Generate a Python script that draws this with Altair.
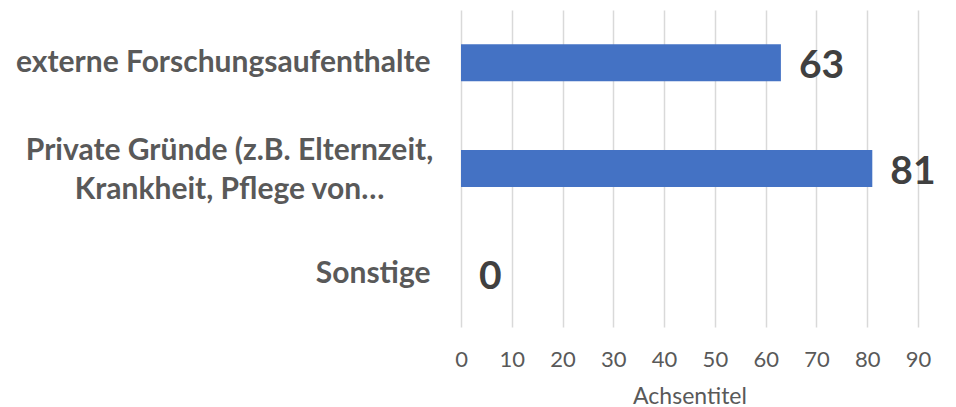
import altair as alt
import pandas as pd

categories = [
    "externe Forschungsaufenthalte",
    "Private Gründe (z.B. Elternzeit, Krankheit, Pflege von…",
    "Sonstige",
]
values = [63, 81, 0]
x_ticks = [0, 10, 20, 30, 40, 50, 60, 70, 80, 90]
axis_title = "Achsentitel"

wrap_line1 = "Private Gründe (z.B. Elternzeit,"
wrap_line2 = "Krankheit, Pflege von…"

df = pd.DataFrame({"cat": categories, "val": values})

is_wrapped = f"datum.label == '{categories[1]}'"
label_expr = f"{is_wrapped} ? ['{wrap_line1}', '{wrap_line2}'] : datum.label"

FONT = "Lato"

base = alt.Chart(df).encode(
    y=alt.Y(
        "cat:N",
        sort=categories,
        title=None,
        scale=alt.Scale(paddingInner=0.65, paddingOuter=0.325),
        axis=alt.Axis(
            labelExpr=label_expr,
            labelFont=FONT,
            labelFontSize=30,
            labelFontWeight="bold",
            labelColor="#595959",
            labelAlign={"condition": {"test": is_wrapped, "value": "center"}, "value": "right"},
            labelPadding={"condition": {"test": is_wrapped, "value": 232}, "value": 31},
            labelOffset={"condition": {"test": is_wrapped, "value": -18}, "value": 0},
            labelLineHeight=39,
            labelLimit=600,
            ticks=False,
            domain=False,
            grid=False,
        ),
    ),
)

bars = base.mark_bar(color="#4472C4").encode(
    x=alt.X(
        "val:Q",
        title=axis_title,
        scale=alt.Scale(domain=[0, 90], nice=False),
        axis=alt.Axis(
            values=x_ticks,
            labelFont=FONT,
            labelFontSize=22,
            labelColor="#595959",
            labelPadding=22,
            labelFlush=False,
            ticks=False,
            domain=False,
            grid=True,
            gridColor="#d9d9d9",
            gridWidth=1.5,
            titleFont=FONT,
            titleFontSize=23,
            titleFontWeight="normal",
            titleColor="#595959",
            titlePadding=15,
        ),
    ),
)

labels = base.mark_text(
    align="left",
    baseline="middle",
    dx=18,
    dy=3,
    font=FONT,
    fontSize=39,
    fontWeight="bold",
    color="#404040",
).encode(x="val:Q", text="val:Q")

chart = (
    alt.layer(bars, labels)
    .properties(
        width=457,
        height=317,
        autosize=alt.AutoSizeParams(type="none"),
        padding={"left": 453, "top": 2, "right": 30, "bottom": 82},
        background="white",
    )
    .configure_view(stroke=None)
)

chart.save("out.html", embed_options={"renderer": "svg", "actions": False})
